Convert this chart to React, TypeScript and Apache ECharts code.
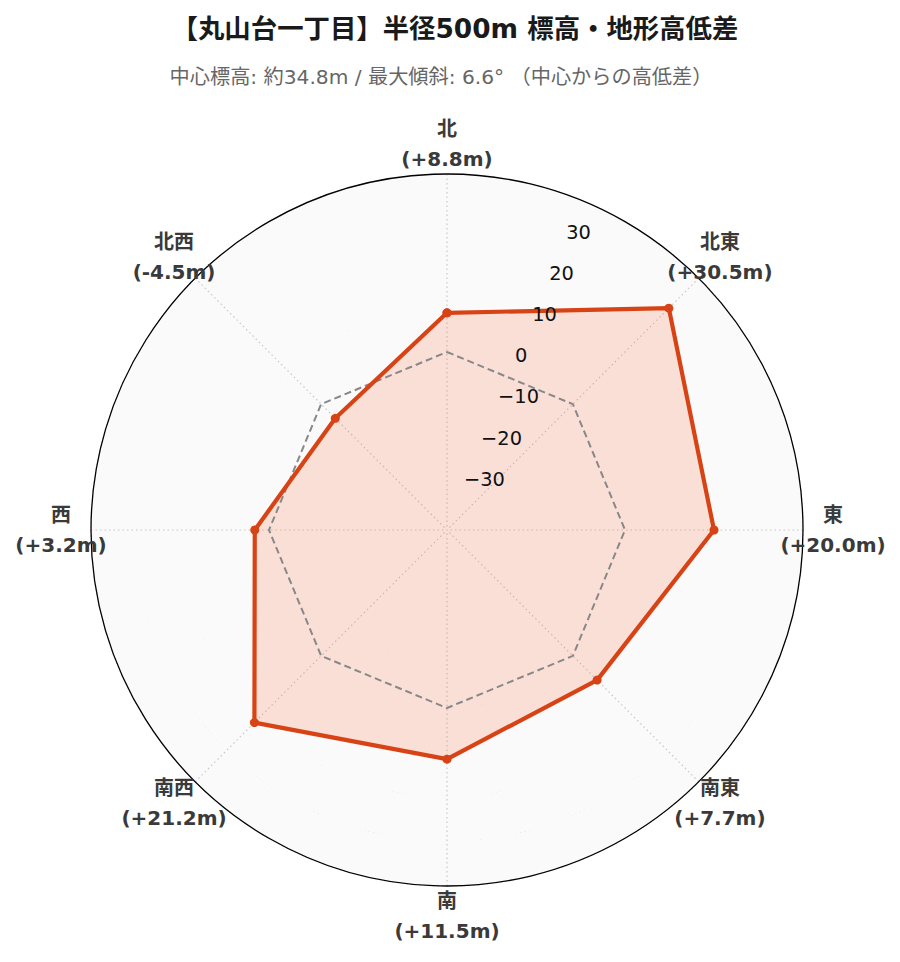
import React, { useEffect, useRef } from "react";
import * as echarts from "echarts";

const TITLE = "【丸山台一丁目】半径500m 標高・地形高低差";
const SUBTITLE = "中心標高: 約34.8m / 最大傾斜: 6.6° （中心からの高低差）";

const directions = ["北", "北東", "東", "南東", "南", "南西", "西", "北西"];
const directionAngles = [0, 45, 90, 135, 180, 225, 270, 315];
const elevationDiff = [8.8, 30.5, 20.0, 7.7, 11.5, 21.2, 3.2, -4.5];
const referenceLevel = [0, 0, 0, 0, 0, 0, 0, 0];
const radialTicks = [-30, -20, -10, 0, 10, 20, 30];
const radialMin = -40;
const radialMax = 40;

const FONT = "'DejaVu Sans', 'Noto Sans CJK JP', sans-serif";
const LINE_COLOR = "#D84315";
const LABEL_COLOR = "#3a3a3a";

function closed(values: number[]): [number, number][] {
  const pts: [number, number][] = values.map((v, i) => [v, directionAngles[i]]);
  pts.push([values[0], 360]);
  return pts;
}

function fmtDiff(v: number): string {
  return (v >= 0 ? "+" : "-") + Math.abs(v).toFixed(1) + "m";
}

export default function App() {
  const ref = useRef<HTMLDivElement>(null);
  useEffect(() => {
    if (!ref.current) return;
    const chart = echarts.init(ref.current, undefined, { renderer: "svg" });
    const center = [447, 530];
    const radius = 356;
    const labelRadius = 386;
    const hiddenAngle = (polarIndex: number, startAngle: number) => ({
      polarIndex,
      type: "value",
      min: 0,
      max: 360,
      startAngle,
      clockwise: true,
      axisLine: { show: false },
      axisTick: { show: false },
      axisLabel: { show: false },
      splitLine: { show: false },
    });
    const richStyle = {
      fontSize: 20,
      fontWeight: "bold",
      fontFamily: FONT,
      color: LABEL_COLOR,
      lineHeight: 30,
      align: "center",
      textBorderWidth: 0,
    };
    chart.setOption({
      animation: false,
      backgroundColor: "#ffffff",
      graphic: [
        {
          type: "text",
          x: 455,
          y: 28,
          style: {
            text: TITLE,
            fontSize: 26.4,
            fontWeight: "bold",
            fontFamily: FONT,
            fill: "#1a1a1a",
            align: "center",
            verticalAlign: "middle",
          },
        },
        {
          type: "text",
          x: 441,
          y: 77,
          style: {
            text: SUBTITLE,
            fontSize: 20.2,
            fontFamily: FONT,
            fill: "#666666",
            align: "center",
            verticalAlign: "middle",
          },
        },
      ],
      polar: [
        { center, radius },
        { center, radius },
        { center, radius: labelRadius },
      ],
      angleAxis: [
        {
          polarIndex: 0,
          type: "value",
          min: 0,
          max: 360,
          interval: 45,
          startAngle: 90,
          clockwise: true,
          axisLine: { show: true, lineStyle: { color: "#000000", width: 1.3 } },
          axisTick: { show: false },
          splitLine: {
            show: true,
            lineStyle: { color: "#c8c8c8", width: 1.2, type: [1.5, 3] },
          },
          axisLabel: { show: false },
        },
        hiddenAngle(1, 67.5),
        hiddenAngle(2, 90),
      ],
      radiusAxis: [
        {
          polarIndex: 0,
          type: "value",
          min: radialMin,
          max: radialMax,
          interval: 10,
          axisLine: { show: false },
          axisTick: { show: false },
          axisLabel: { show: false },
          splitLine: {
            show: true,
            lineStyle: { color: "#c8c8c8", width: 1.2, type: [1.5, 3] },
          },
          splitArea: { show: true, areaStyle: { color: ["#fafafa"] } },
        },
        {
          polarIndex: 1,
          type: "value",
          min: radialMin,
          max: radialMax,
          interval: 10,
          z: 10,
          axisLine: { show: false },
          axisTick: { show: false },
          splitLine: { show: false },
          axisLabel: {
            show: true,
            margin: 0,
            align: "left",
            verticalAlign: "bottom",
            fontSize: 19.4,
            fontFamily: FONT,
            color: "#111111",
            formatter: (v: number) =>
              radialTicks.indexOf(v) >= 0 ? (v < 0 ? "\u2212" + Math.abs(v) : String(v)) : "",
          },
        },
        {
          polarIndex: 2,
          type: "value",
          min: 0,
          max: 1,
          axisLine: { show: false },
          axisTick: { show: false },
          axisLabel: { show: false },
          splitLine: { show: false },
        },
      ],
      series: [
        {
          type: "line",
          coordinateSystem: "polar",
          polarIndex: 0,
          data: closed(elevationDiff),
          symbol: "none",
          lineStyle: { width: 0, opacity: 0 },
          areaStyle: { color: "rgba(255, 85, 30, 0.155)", opacity: 1, origin: "start" },
          z: 2,
          silent: true,
        },
        {
          type: "line",
          coordinateSystem: "polar",
          polarIndex: 0,
          data: closed(referenceLevel),
          symbol: "none",
          lineStyle: { color: "#888888", width: 2, type: [7, 4] },
          z: 3,
          silent: true,
        },
        {
          type: "line",
          coordinateSystem: "polar",
          polarIndex: 0,
          data: closed(elevationDiff),
          symbol: "circle",
          symbolSize: 9,
          itemStyle: { color: LINE_COLOR },
          lineStyle: { color: LINE_COLOR, width: 4.2 },
          z: 4,
        },
        {
          type: "scatter",
          coordinateSystem: "polar",
          polarIndex: 2,
          data: directionAngles.map((a) => [1, a]),
          symbolSize: 1,
          itemStyle: { color: "rgba(0,0,0,0)", opacity: 1 },
          silent: true,
          z: 6,
          label: {
            show: true,
            position: "inside",
            color: LABEL_COLOR,
            opacity: 1,
            textBorderWidth: 0,
            formatter: (p: any) => {
              const idx = p.dataIndex;
              return `{d|${directions[idx]}}\n{v|(${fmtDiff(elevationDiff[idx])})}`;
            },
            rich: { d: richStyle, v: richStyle },
          },
        },
      ],
    });
    return () => chart.dispose();
  }, []);
  return (
    <div
      ref={ref}
      style={{ position: "fixed", left: 0, top: 0, width: 900, height: 962 }}
    />
  );
}
